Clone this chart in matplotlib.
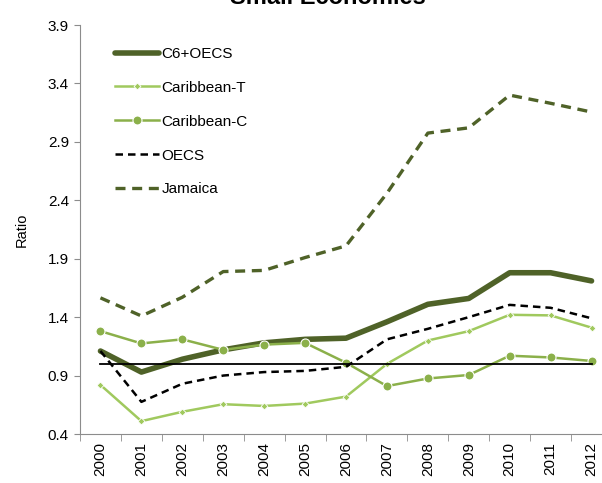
import matplotlib
matplotlib.use('Agg')
import matplotlib.pyplot as plt
import numpy as np

plt.rcParams['font.family'] = ['Liberation Sans', 'DejaVu Sans']

# Data
years = ['2000', '2001', '2002', '2003', '2004', '2005', '2006',
         '2007', '2008', '2009', '2010', '2011', '2012']
c6_oecs = [1.11, 0.93, 1.04, 1.12, 1.18, 1.21, 1.22, 1.36, 1.51, 1.56, 1.78, 1.78, 1.71]
carib_t = [0.82, 0.51, 0.59, 0.655, 0.64, 0.66, 0.72, 1.00, 1.20, 1.28, 1.42, 1.415, 1.31]
carib_c = [1.28, 1.175, 1.21, 1.12, 1.165, 1.18, 1.01, 0.81, 0.875, 0.905, 1.07, 1.055, 1.025]
oecs = [1.11, 0.675, 0.83, 0.9, 0.93, 0.94, 0.975, 1.21, 1.30, 1.40, 1.505, 1.48, 1.39]
jamaica = [1.565, 1.41, 1.57, 1.79, 1.80, 1.91, 2.01, 2.46, 2.975, 3.02, 3.30, 3.23, 3.155]
reference = 1.0

dark_green = '#4F6228'
light_green = '#A0C95E'
mid_green = '#8BB04A'

fig = plt.figure(figsize=(6.02, 4.83), dpi=100)
ax = fig.add_axes([80 / 602, 49 / 483, 532 / 602, 409 / 483])

x = np.arange(len(years))
ax.plot(x, c6_oecs, color=dark_green, linewidth=4, solid_capstyle='round',
        label='C6+OECS')
ax.plot(x, carib_t, color=light_green, linewidth=1.8, marker='D', markersize=3.5,
        markeredgecolor='white', markeredgewidth=0.6, label='Caribbean-T')
ax.plot(x, carib_c, color=mid_green, linewidth=1.8, marker='o', markersize=6.5,
        markeredgecolor='white', markeredgewidth=0.8, label='Caribbean-C')
ax.plot(x, oecs, color='black', linewidth=1.8, linestyle=(0, (3, 2)), label='OECS')
ax.plot(x, jamaica, color=dark_green, linewidth=2.4, linestyle=(0, (3, 2)),
        label='Jamaica')
ax.plot(x, [reference] * len(x), color='black', linewidth=1.3)

ax.set_xlim(-0.5, len(years) - 0.5)
ax.set_ylim(0.4, 3.9)
ax.set_yticks(np.arange(0.4, 3.91, 0.5))
ax.set_yticklabels(['%.1f' % v for v in np.arange(0.4, 3.91, 0.5)], fontsize=11)
ax.set_xticks(x)
ax.set_xticklabels(years, rotation=90, fontsize=11)
ax.set_xticks(np.arange(-0.5, len(years), 1), minor=True)
ax.tick_params(axis='x', which='major', length=0, pad=6)
ax.tick_params(axis='x', which='minor', length=5, color='#8c8c8c')
ax.tick_params(axis='y', length=4, color='#8c8c8c', pad=4)

for side in ['top', 'right']:
    ax.spines[side].set_visible(False)
ax.spines['left'].set_color('#8c8c8c')
ax.spines['bottom'].set_color('#8c8c8c')

ax.set_ylabel('Ratio', fontsize=10.5, labelpad=14)

fig.text(0.545, 1.005, 'Small Economies', ha='center', va='center',
         fontsize=17, fontweight='bold')

ax.legend(loc='upper left', bbox_to_anchor=(0.04, 0.98), frameon=False,
          fontsize=11, handlelength=2.9, handletextpad=0.15, labelspacing=1.3)

fig.savefig('out.png', dpi=100)
